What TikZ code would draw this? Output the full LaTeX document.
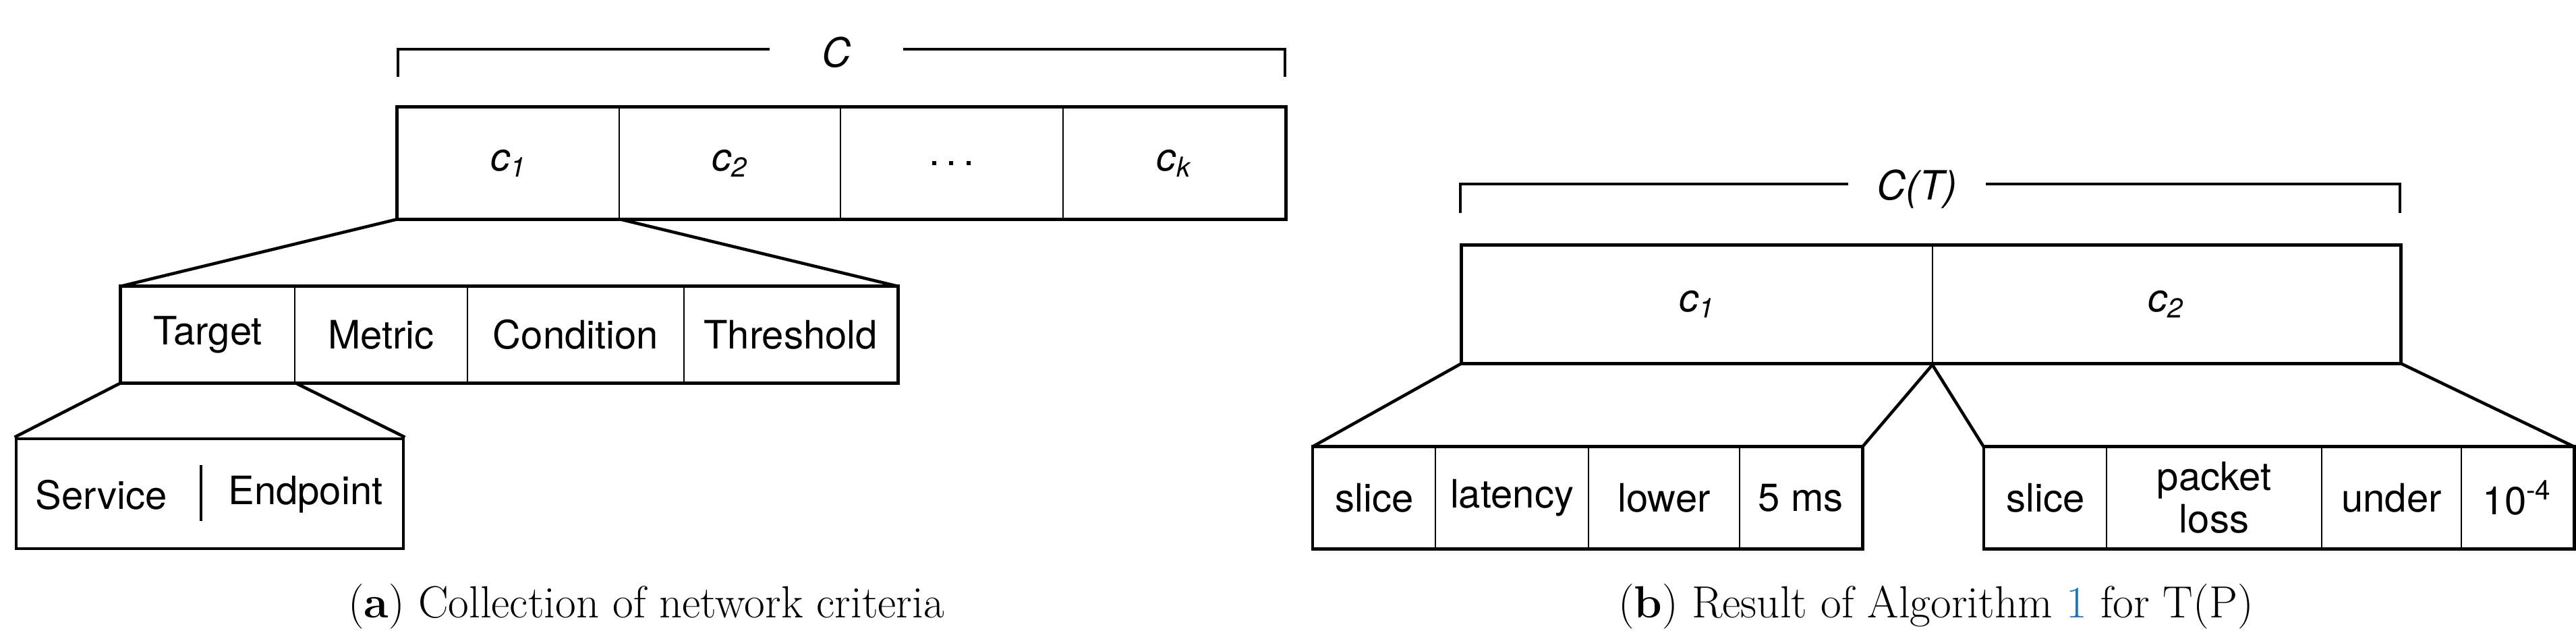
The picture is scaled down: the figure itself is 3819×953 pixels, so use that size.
\documentclass[tikz,border=0pt]{standalone}
\usepackage{fontspec}
\setsansfont{TeX Gyre Heros}
\usepackage{tikz}

\definecolor{linkblue}{rgb}{0.1,0.45,0.75}

\tikzset{
	cell/.style={draw, line width=0.7pt, inner sep=0pt, font=\fontsize{16.5}{18}\selectfont\sffamily, align=center},
	frame/.style={line width=1.3pt},
	brace/.style={line width=1.3pt},
	caption/.style={font=\fontsize{19}{22}\selectfont}
}

\begin{document}
\begin{tikzpicture}[x=0.01cm, y=-0.01cm]
		\useasboundingbox (0,0) rectangle (3819,953);
		
		% (a) collection of criteria
		\foreach \xa/\xb/\n/\t in {590/918/ca1/{\itshape c\textsubscript{1}}, 918/1246/ca2/{\itshape c\textsubscript{2}}, 1246/1576/cadots/{.\,.\,.}, 1576/1905/cak/{\itshape c\textsubscript{k}}}
			\node[cell, minimum width={(\xb-\xa)*0.01cm}, minimum height=1.64cm] (\n) at ({(\xa+\xb)/2},242) {\t};
		\draw[frame] (ca1.north west) rectangle (cak.south east);
		
		\foreach \xa/\xb/\n/\t in {180/437/target/Target, 437/693/metric/Metric, 693/1014/cond/Condition, 1014/1330/thres/Threshold}
			\node[cell, minimum width={(\xb-\xa)*0.01cm}, minimum height=1.41cm] (\n) at ({(\xa+\xb)/2},496.5) {\t};
		\draw[frame] (target.north west) rectangle (thres.south east);
		
		\node[draw, frame, minimum width=5.74cm, minimum height=1.63cm, inner sep=0pt] (tbox) at (311,732.5) {};
		\node[font=\fontsize{16.5}{18}\selectfont\sffamily] (serv) at (150,734) {Service};
		\node[font=\fontsize{16.5}{18}\selectfont\sffamily] (endp) at (453,734) {Endpoint};
		\coordinate (sepa) at (298,690);
		\coordinate (sepb) at (298,773);
		\draw[frame] (sepa) -- (sepb);
		
		\draw[frame] (ca1.south west) -- (target.north west);
		\draw[frame] (ca1.south east) -- (thres.north east);
		\draw[frame] (target.south west) -- (tbox.north west);
		\draw[frame] (target.south east) -- (tbox.north east);
		
		\coordinate (ba) at (590,114);
		\coordinate (bb) at (590,73);
		\coordinate (bc) at (1905,73);
		\coordinate (bd) at (1905,114);
		\draw[brace] (ba) -- (bb) -- (bc) -- (bd);
		\node[fill=white, font=\fontsize{17}{20}\selectfont\sffamily\itshape, inner xsep=22pt] (cset) at (1240,78) {C};
		
		\node[caption] (capa) at (958,900) {(\textbf{a}) Collection of network criteria};
		
		% (b) result for T(P)
		\node[cell, minimum width=6.97cm, minimum height=1.73cm] (cb1) at (2516.5,451.5) {\itshape c\textsubscript{1}};
		\node[cell, minimum width=6.93cm, minimum height=1.73cm] (cb2) at (3211.5,451.5) {\itshape c\textsubscript{2}};
		\draw[frame] (cb1.north west) rectangle (cb2.south east);
		
		\foreach \xa/\xb/\n/\t in {1947/2128/sla/slice, 2128/2355/lat/latency, 2355/2579/low/lower, 2579/2760/ms/5 ms}
			\node[cell, minimum width={(\xb-\xa)*0.01cm}, minimum height=1.49cm] (\n) at ({(\xa+\xb)/2},738.5) {\t};
		\draw[frame] (sla.north west) rectangle (ms.south east);
		
		\foreach \xa/\xb/\n/\t in {2942/3123/slb/slice, 3123/3442/loss/{packet\\loss}, 3442/3649/under/under, 3649/3815/pow/{10\textsuperscript{-4}}}
			\node[cell, minimum width={(\xb-\xa)*0.01cm}, minimum height=1.49cm] (\n) at ({(\xa+\xb)/2},738.5) {\t};
		\draw[frame] (slb.north west) rectangle (pow.south east);
		
		\draw[frame] (cb1.south west) -- (sla.north west);
		\draw[frame] (cb1.south east) -- (ms.north east);
		\draw[frame] (cb2.south west) -- (slb.north west);
		\draw[frame] (cb2.south east) -- (pow.north east);
		
		\coordinate (bba) at (2165,316);
		\coordinate (bbb) at (2165,273);
		\coordinate (bbc) at (3558,273);
		\coordinate (bbd) at (3558,316);
		\draw[brace] (bba) -- (bbb) -- (bbc) -- (bbd);
		\node[fill=white, font=\fontsize{17}{20}\selectfont\sffamily\itshape, inner xsep=12pt] (ctset) at (2842,281) {C(T)};
		
		\node[caption] (capb) at (2870,900) {(\textbf{b}) Result of Algorithm \textcolor{linkblue}{1} for T(P)};
	\end{tikzpicture}
\end{document}
